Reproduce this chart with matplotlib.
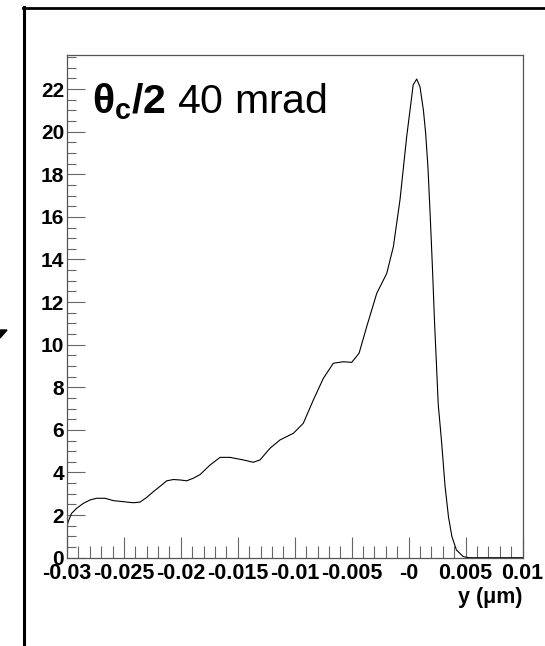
import matplotlib
matplotlib.use("Agg")
import matplotlib.pyplot as plt
from matplotlib.lines import Line2D
from matplotlib.patches import Polygon

# ---- Data
y_pos = [-0.03, -0.0299, -0.0296, -0.02915, -0.02857, -0.02798, -0.0274,
         -0.02666, -0.02593, -0.02506, -0.02418, -0.02359, -0.023, -0.02242,
         -0.02183, -0.02124, -0.02066, -0.02008, -0.01949, -0.01891,
         -0.01832, -0.01744, -0.01656, -0.01569, -0.01452, -0.01364,
         -0.01305, -0.01217, -0.01129, -0.01012, -0.00925, -0.00837,
         -0.00749, -0.00661, -0.00573, -0.005, -0.00435, -0.00368, -0.0028,
         -0.00192, -0.00134, -0.00076, -0.00017, 0.00027, 0.0004, 0.00071,
         0.001, 0.0013, 0.0015, 0.0017, 0.0019, 0.0021, 0.00228, 0.00245,
         0.0026, 0.0029, 0.0032, 0.0035, 0.0038, 0.0042, 0.0048, 0.0053,
         0.01]
counts = [1.45, 1.69, 2.08, 2.32, 2.55, 2.71, 2.79,
          2.79, 2.68, 2.63, 2.58, 2.61, 2.83, 3.10,
          3.35, 3.61, 3.67, 3.65, 3.61, 3.73,
          3.90, 4.35, 4.71, 4.71, 4.59, 4.48,
          4.59, 5.14, 5.53, 5.84, 6.31, 7.40,
          8.42, 9.13, 9.20, 9.17, 9.6, 10.85, 12.41,
          13.35, 14.60, 16.79, 19.77, 21.64, 22.2, 22.47,
          22.1, 21.0, 19.9, 18.3, 16.0, 13.5, 11.0, 9.0,
          7.2, 5.4, 3.35, 1.92, 0.99, 0.36, 0.05, 0.0,
          0.0]

x_ticks = [-0.03, -0.025, -0.02, -0.015, -0.01, -0.005, 0.0, 0.005, 0.01]
x_ticklabels = ["-0.03", "-0.025", "-0.02", "-0.015", "-0.01", "-0.005",
                "-0", "0.005", "0.01"]
y_ticks = [0, 2, 4, 6, 8, 10, 12, 14, 16, 18, 20, 22]

plt.rcParams["font.family"] = ["Liberation Sans", "DejaVu Sans"]
plt.rcParams["mathtext.fontset"] = "custom"
plt.rcParams["mathtext.rm"] = "Liberation Sans"
plt.rcParams["mathtext.bf"] = "Liberation Sans:bold"
plt.rcParams["mathtext.it"] = "Liberation Sans:italic"

fig = plt.figure(figsize=(5.45, 6.46), dpi=100)
ax = fig.add_axes([67 / 545, 1 - 557.7 / 646, 455.5 / 545, 502.7 / 646])

ax.plot(y_pos, counts, color="black", lw=0.8)

ax.set_xlim(-0.03, 0.01)
ax.set_ylim(0, 23.6)
ax.set_xticks(x_ticks)
ax.set_xticklabels(x_ticklabels, fontweight="bold", fontsize=15.5)
ax.set_xticks([v / 1000 for v in range(-30, 11)], minor=True)
ax.set_yticks(y_ticks)
ax.set_yticklabels([str(v) for v in y_ticks], fontweight="bold", fontsize=15)
ax.set_yticks([v / 2 for v in range(0, 48)], minor=True)

ax.tick_params(axis="x", which="major", direction="in", length=15, width=0.8,
               color="#666666", pad=4)
ax.tick_params(axis="x", which="minor", direction="in", length=8.5, width=0.8,
               color="#666666")
ax.tick_params(axis="y", which="major", direction="in", length=13, width=0.8,
               color="#666666", pad=2)
ax.tick_params(axis="y", which="minor", direction="in", length=6.5, width=0.8,
               color="#666666")
for sp in ax.spines.values():
    sp.set_color("#555555")
    sp.set_linewidth(0.9)

ax.text(1.0, -0.058, "y (\u03bcm)", transform=ax.transAxes, ha="right",
        va="top", fontsize=15.5, fontweight="bold")

fig.text(92 / 545, 1 - 113 / 646, r"$\mathbf{\theta_c/2}$ 40 mrad",
         fontsize=29.5, va="baseline", ha="left")

# ---- Outer frame from the neighbouring pad, and a stray marker
fig.add_artist(Line2D([23.5 / 545, 23.5 / 545], [0, 1 - 7 / 646],
                      color="black", lw=2.2, transform=fig.transFigure))
fig.add_artist(Line2D([22.5 / 545, 1], [1 - 7.5 / 646, 1 - 7.5 / 646],
                      color="black", lw=2.0, transform=fig.transFigure))
fig.add_artist(Polygon([[0, 1 - 330 / 646], [7 / 545, 1 - 330 / 646],
                        [0, 1 - 338 / 646]], closed=True, color="black",
                       transform=fig.transFigure))

fig.savefig("out.png", dpi=100)
